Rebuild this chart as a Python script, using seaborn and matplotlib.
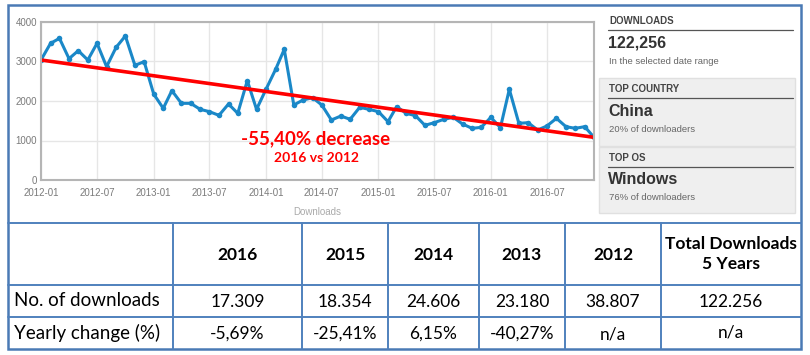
import numpy as np
import pandas as pd
import matplotlib
matplotlib.use("Agg")
import matplotlib.pyplot as plt
import matplotlib.dates as mdates
from matplotlib.patches import Rectangle
import seaborn as sns

# Monthly downloads
dl_2012 = [3038, 3460, 3586, 3072, 3274, 3038, 3460, 2869, 3359, 3646, 2903, 2996]
dl_2013 = [2177, 1814, 2262, 1941, 1941, 1789, 1730, 1637, 1924, 1688, 2515, 1789]
dl_2014 = [2300, 2801, 3308, 1899, 2025, 2084, 1899, 1519, 1620, 1536, 1840, 1789]
dl_2015 = [1730, 1477, 1857, 1688, 1629, 1384, 1451, 1536, 1586, 1418, 1308, 1333]
dl_2016 = [1586, 1325, 2295, 1435, 1451, 1266, 1367, 1561, 1350, 1308, 1350, 1080]

monthly = dl_2012 + dl_2013 + dl_2014 + dl_2015 + dl_2016
months = pd.date_range("2012-01-01", periods=len(monthly), freq="MS")
df = pd.DataFrame({"Month": months, "Downloads": monthly})
trend = df.iloc[[0, -1]]

# Summary table
years = ["2016", "2015", "2014", "2013", "2012"]
yearly_downloads = ["17.309", "18.354", "24.606", "23.180", "38.807"]
yearly_change = ["-5,69%", "-25,41%", "6,15%", "-40,27%", "n/a"]
total_header = "Total Downloads\n5 Years"
total_downloads = "122.256"
total_change = "n/a"
row_labels = ["No. of downloads", "Yearly change (%)"]

# Side panel
side_panels = [
    ("DOWNLOADS", "122,256", "In the selected date range"),
    ("TOP COUNTRY", "China", "20% of downloaders"),
    ("TOP OS", "Windows", "76% of downloaders"),
]

sns.set_style("white")
plt.rcParams["font.family"] = ["Liberation Sans", "DejaVu Sans"]

W, H = 810, 355
fig = plt.figure(figsize=(W / 100, H / 100), dpi=100)


def box(l, t, r, b):
    return [l / W, 1 - b / H, (r - l) / W, (b - t) / H]


ax = fig.add_axes(box(41, 22, 594, 180))
sns.lineplot(data=df, x="Month", y="Downloads", ax=ax, color="#1a88c8",
             linewidth=2.2, marker="o", markersize=4, markeredgewidth=0)
sns.lineplot(data=trend, x="Month", y="Downloads", ax=ax, color="#ff0000",
             linewidth=2.6)
ax.set_xlim(months[0], months[-1])
ax.set_ylim(0, 4000)
ax.set_yticks(range(0, 4001, 1000))
ax.xaxis.set_major_locator(mdates.MonthLocator(bymonth=[1, 7]))
ax.xaxis.set_major_formatter(mdates.DateFormatter("%Y-%m"))
ax.grid(True, color="#e6e6e6", linewidth=1)
for s in ax.spines.values():
    s.set_color("#b5b5b5")
    s.set_linewidth(1.5)
ax.tick_params(length=0, labelsize=7, colors="#7a7a7a")
ax.tick_params(axis="x", pad=6)
ax.tick_params(axis="y", pad=3)
ax.set_ylabel("")
ax.set_xlabel("Downloads", color="#aaaaaa", fontsize=7, labelpad=6)

# overlay in pixel coordinates
ov = fig.add_axes([0, 0, 1, 1], zorder=5)
ov.set_xlim(0, W)
ov.set_ylim(H, 0)
ov.axis("off")

ov.text(316, 139, "-55,40% decrease", ha="center", va="center", color="#ff0000",
        fontsize=13.5, fontweight="bold", family="Lato")
ov.text(316, 158, "2016 vs 2012", ha="center", va="center", color="#ff0000",
        fontsize=10, fontweight="bold", family="Lato")

# side panel
panel_tops = [10, 78, 147]
panel_bottoms = [78, 146, 213]
for i, (head, big, small) in enumerate(side_panels):
    t = panel_tops[i]
    if i > 0:
        ov.add_patch(Rectangle((599, t), 196, panel_bottoms[i] - t,
                               facecolor="#efefef", edgecolor="#e0e0e0", lw=1))
    ov.text(609, t + 11, head, ha="left", va="center", fontsize=7,
            fontweight="bold", color="#444444")
    ov.plot([608, 793], [t + 20, t + 20], color="#555555", lw=0.9)
    ov.text(608, t + 33, big, ha="left", va="center", fontsize=11.5,
            fontweight="bold", color="#333333")
    ov.text(609, t + 51, small, ha="left", va="center", fontsize=6.8,
            color="#666666")

# table
blue = "#4f81bd"
col_x = [8, 173, 302, 388, 479, 565, 661, 801]
row_y = [223, 285, 317, 349]
for y in row_y[:-1]:
    ov.plot([8, 801], [y, y], color=blue, lw=1.4)
for x in col_x[1:-1]:
    ov.plot([x, x], [223, 349], color=blue, lw=1.4)
ov.add_patch(Rectangle((8, 5), 793, 344, fill=False, edgecolor="#4a7ab5", lw=1.8))

centers = [(col_x[i] + col_x[i + 1]) / 2 for i in range(1, 7)]
for i, yr in enumerate(years):
    ov.text(centers[i], 255, yr, ha="center", va="center", fontsize=12.5,
            fontweight="bold", family="Lato", color="black")
    ov.text(centers[i], 302, yearly_downloads[i], ha="center", va="center",
            fontsize=12.5, family="Lato", color="black")
    ov.text(centers[i], 334, yearly_change[i], ha="center", va="center",
            fontsize=12.5, family="Lato", color="black")
ov.text(centers[5], 254, total_header, ha="center", va="center", fontsize=12.5,
        fontweight="bold", family="Lato", color="black", linespacing=1.3)
ov.text(centers[5], 302, total_downloads, ha="center", va="center",
        fontsize=12.5, family="Lato", color="black")
ov.text(centers[5], 333, total_change, ha="center", va="center",
        fontsize=12.5, family="Lato", color="black")
ov.text(14, 301, row_labels[0], ha="left", va="center", fontsize=13.5,
        family="Lato", color="black")
ov.text(14, 333, row_labels[1], ha="left", va="center", fontsize=13.5,
        family="Lato", color="black")

fig.savefig("out.png", dpi=100, facecolor="white")
